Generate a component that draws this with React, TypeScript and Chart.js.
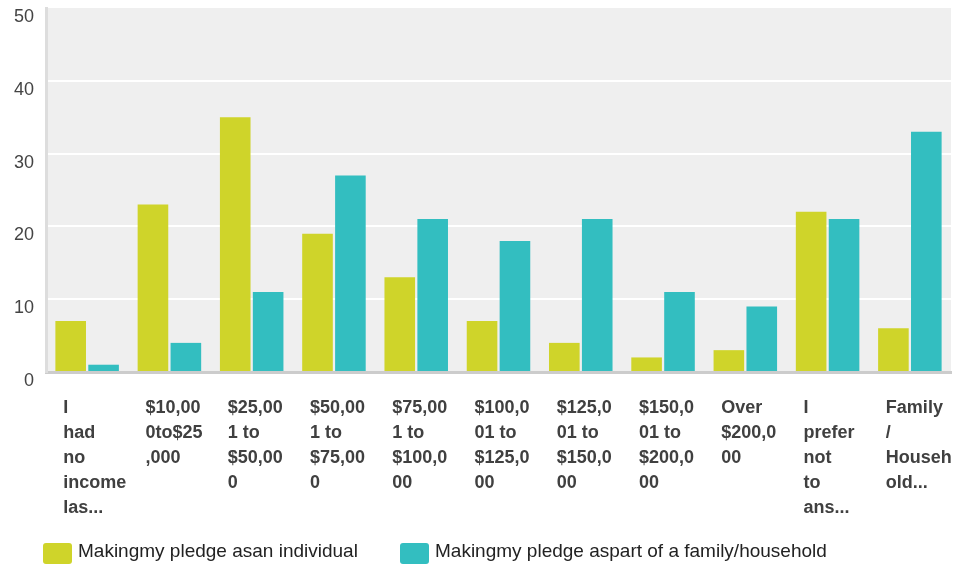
import React, { useEffect, useRef } from "react";
import { Chart, registerables } from "chart.js";

Chart.register(...registerables);

const categories: string[][] = [
  ["I", "had", "no", "income", "las..."],
  ["$10,00", "0to$25", ",000"],
  ["$25,00", "1 to", "$50,00", "0"],
  ["$50,00", "1 to", "$75,00", "0"],
  ["$75,00", "1 to", "$100,0", "00"],
  ["$100,0", "01 to", "$125,0", "00"],
  ["$125,0", "01 to", "$150,0", "00"],
  ["$150,0", "01 to", "$200,0", "00"],
  ["Over", "$200,0", "00"],
  ["I", "prefer", "not", "to", "ans..."],
  ["Family", "/", "Househ", "old..."],
];

const individualValues = [7, 23, 35, 19, 13, 7, 4, 2, 3, 22, 6];
const familyValues = [1, 4, 11, 27, 21, 18, 21, 11, 9, 21, 33];

const seriesNames = [
  "Makingmy pledge asan individual",
  "Makingmy pledge aspart of a family/household",
];
const seriesColors = ["#cfd42a", "#33bec0"];

const yMin = 0;
const yMax = 50;
const yStep = 10;

const FONT = '"Liberation Sans", Arial, Helvetica, sans-serif';

const plotBg = {
  id: "plotBg",
  beforeDraw(chart: any) {
    const { ctx, chartArea } = chart;
    ctx.save();
    ctx.fillStyle = "#efefef";
    ctx.fillRect(chartArea.left, chartArea.top, chartArea.right - chartArea.left, chartArea.bottom - chartArea.top);
    ctx.restore();
  },
};

const xLabels = {
  id: "xLabels",
  afterDraw(chart: any) {
    const { ctx, chartArea } = chart;
    const xs = chart.scales.x;
    ctx.save();
    ctx.font = `bold 18px ${FONT}`;
    ctx.fillStyle = "#404040";
    ctx.textAlign = "left";
    ctx.textBaseline = "alphabetic";
    categories.forEach((lines, i) => {
      const x = xs.getPixelForValue(i) - 24;
      lines.forEach((ln, j) => {
        ctx.fillText(ln, x, chartArea.bottom + 41 + j * 25);
      });
    });
    ctx.restore();
  },
};

export default function App() {
  const ref = useRef<HTMLCanvasElement | null>(null);

  useEffect(() => {
    if (!ref.current) return;
    const chart = new Chart(ref.current, {
      type: "bar",
      data: {
        labels: categories.map((c) => c.join(" ")),
        datasets: [
          {
            label: seriesNames[0],
            data: individualValues,
            backgroundColor: seriesColors[0],
            borderWidth: 0,
            barPercentage: 0.93,
            categoryPercentage: 0.8,
          },
          {
            label: seriesNames[1],
            data: familyValues,
            backgroundColor: seriesColors[1],
            borderWidth: 0,
            barPercentage: 0.93,
            categoryPercentage: 0.8,
          },
        ],
      },
      options: {
        animation: false,
        responsive: false,
        maintainAspectRatio: false,
        layout: { padding: { top: 8, right: 3, left: 0, bottom: 0 } },
        plugins: {
          legend: { display: false },
          tooltip: { enabled: false },
        },
        scales: {
          x: {
            grid: { display: false, drawTicks: false },
            border: { display: true, color: "#cccccc", width: 3 },
            ticks: { display: false },
            afterFit: (s: any) => {
              s.height = 192;
              s.paddingLeft = 0;
              s.paddingRight = 0;
            },
          },
          y: {
            min: yMin,
            max: yMax,
            grid: {
              color: (c: any) => (c.tick && (c.tick.value === yMax || c.tick.value === yMin) ? "rgba(0,0,0,0)" : "#ffffff"),
              lineWidth: 2,
              drawTicks: false,
            },
            border: { display: true, color: "#dddddd", width: 3 },
            ticks: {
              stepSize: yStep,
              color: "#444444",
              font: { family: FONT, size: 18 },
              padding: 12,
              labelOffset: 9,
            },
            afterFit: (s: any) => {
              s.width = 46;
              s.paddingTop = 0;
              s.paddingBottom = 0;
            },
          },
        },
      },
      plugins: [plotBg, xLabels],
    });
    return () => chart.destroy();
  }, []);

  const legendItem = (i: number, left: number) => (
    <div
      key={i}
      style={{
        position: "absolute",
        left,
        top: 543,
        display: "flex",
        alignItems: "flex-start",
        whiteSpace: "nowrap",
      }}
    >
      <div
        style={{
          width: 29,
          height: 21,
          borderRadius: 3,
          background: seriesColors[i],
          marginRight: 6,
          flex: "0 0 auto",
        }}
      />
      <span
        style={{
          fontFamily: FONT,
          fontSize: 19,
          color: "#222222",
          lineHeight: "17px",
          marginTop: -1,
        }}
      >
        {seriesNames[i]}
      </span>
    </div>
  );

  return (
    <div style={{ position: "fixed", left: 0, top: 0, width: 954, height: 564, background: "#ffffff", overflow: "hidden" }}>
      <canvas ref={ref} width={954} height={564} style={{ position: "absolute", left: 0, top: 0, width: 954, height: 564 }} />
      {legendItem(0, 43)}
      {legendItem(1, 400)}
    </div>
  );
}
